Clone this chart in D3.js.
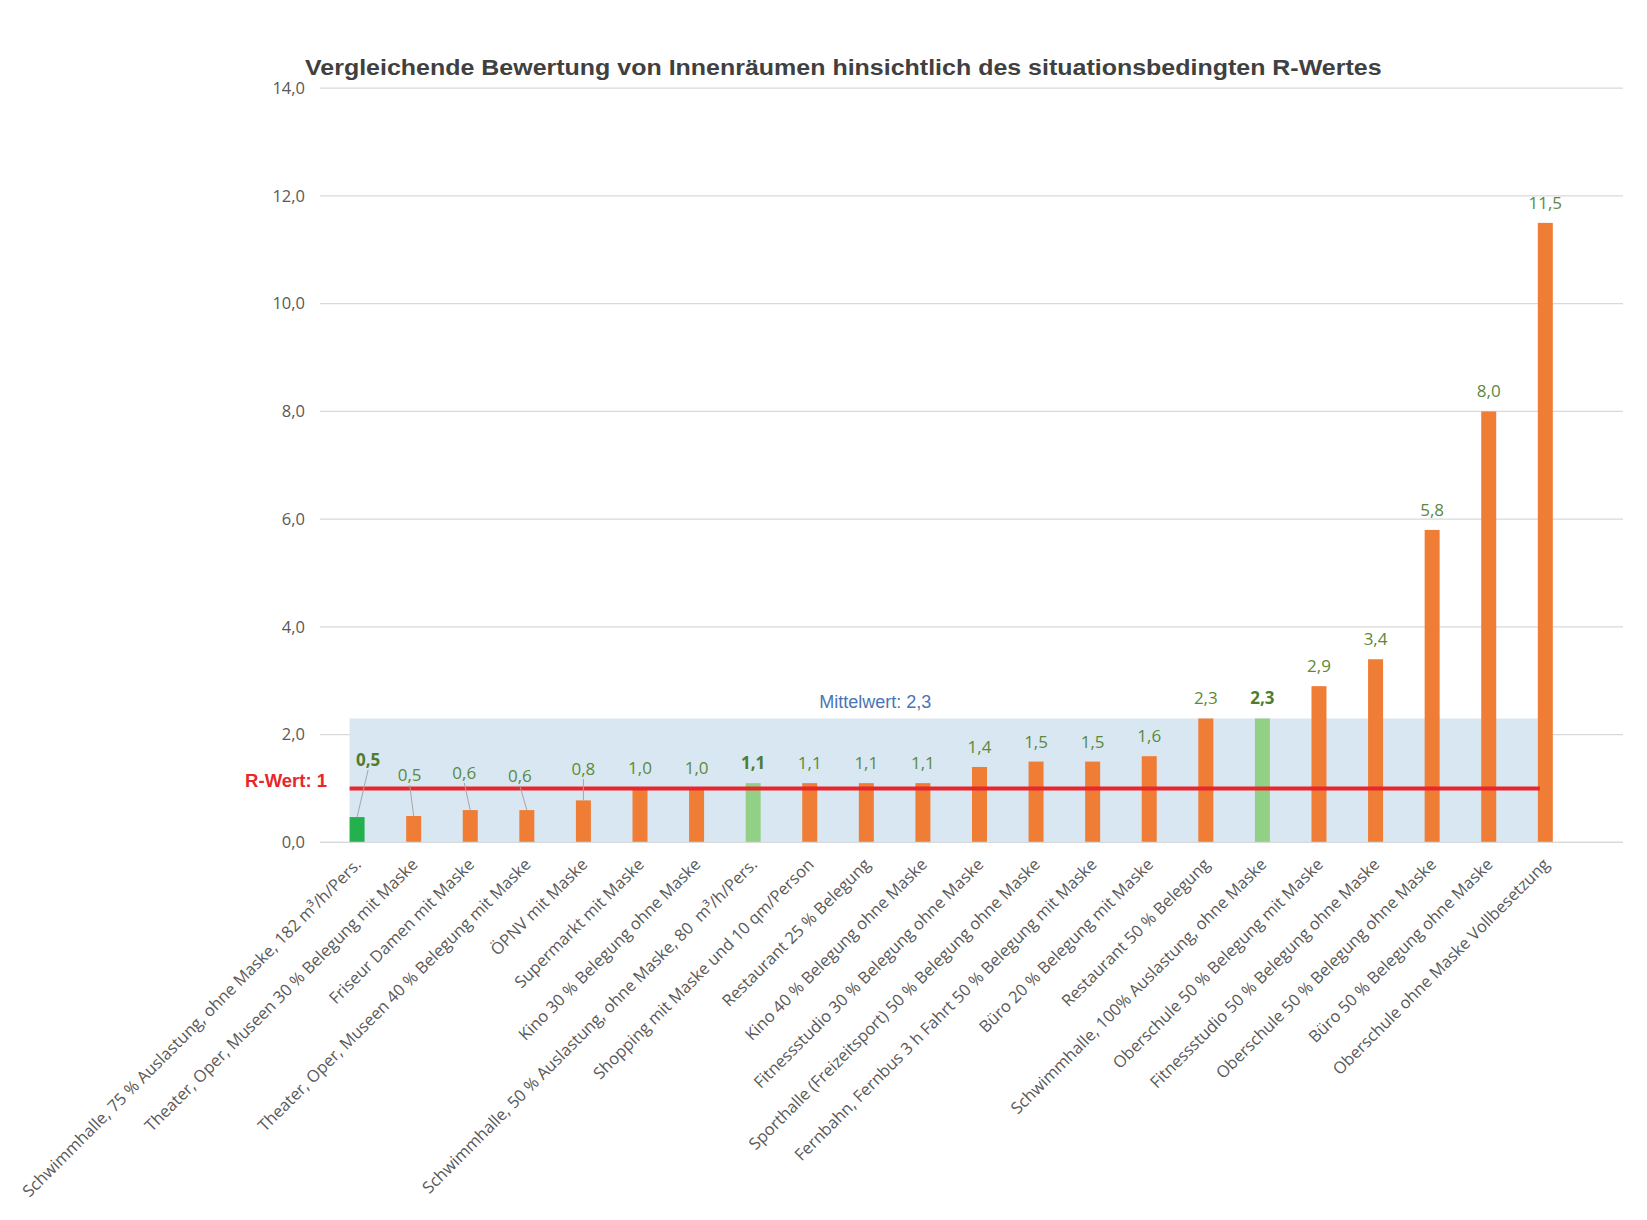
<!DOCTYPE html>
<html>
<head>
<meta charset="utf-8">
<script src="https://cdn.jsdelivr.net/npm/d3@7"></script>
<style>
  html, body { margin: 0; padding: 0; background: #ffffff; }
  svg { display: block; }
  text { white-space: pre; }
</style>
</head>
<body>
<svg id="chart" width="1647" height="1220"></svg>
<script>
// ---------- data ----------
const chartTitle = "Vergleichende Bewertung von Innenräumen hinsichtlich des situationsbedingten R-Wertes";
const categories = [
  "Schwimmhalle, 75 % Auslastung, ohne Maske, 182 m³/h/Pers.",
  "Theater, Oper, Museen 30 % Belegung mit Maske",
  "Friseur Damen mit Maske",
  "Theater, Oper, Museen 40 % Belegung mit Maske",
  "ÖPNV mit Maske",
  "Supermarkt mit Maske",
  "Kino 30 % Belegung ohne Maske",
  "Schwimmhalle, 50 % Auslastung, ohne Maske, 80  m³/h/Pers.",
  "Shopping mit Maske und 10 qm/Person",
  "Restaurant 25 % Belegung",
  "Kino 40 % Belegung ohne Maske",
  "Fitnessstudio 30 % Belegung ohne Maske",
  "Sporthalle (Freizeitsport) 50 % Belegung ohne Maske",
  "Fernbahn, Fernbus 3 h Fahrt 50 % Belegung mit Maske",
  "Büro 20 % Belegung mit Maske",
  "Restaurant 50 % Belegung",
  "Schwimmhalle, 100% Auslastung, ohne Maske",
  "Oberschule 50 % Belegung mit Maske",
  "Fitnessstudio 50 % Belegung ohne Maske",
  "Oberschule 50 % Belegung ohne Maske",
  "Büro 50 % Belegung ohne Maske",
  "Oberschule ohne Maske Vollbesetzung"
];
const values = [0.47, 0.49, 0.6, 0.6, 0.78, 1.0, 1.0, 1.1, 1.1, 1.1, 1.1, 1.4, 1.5, 1.5, 1.6, 2.3, 2.3, 2.9, 3.4, 5.8, 8.0, 11.5];
const barGroup = ["dunkelgruen", "orange", "orange", "orange", "orange", "orange", "orange", "hellgruen",
  "orange", "orange", "orange", "orange", "orange", "orange", "orange", "orange", "hellgruen",
  "orange", "orange", "orange", "orange", "orange"];
const yTicks = [0, 2, 4, 6, 8, 10, 12, 14];
const rWert = 1;
const mittelwert = 2.3;
const rWertLabel = "R-Wert: 1";
const mittelwertLabel = "Mittelwert: 2,3";

// label placement for the small bars that use leader lines (styling, not data)
const leaderLabelY = [1.53, 1.25, 1.29, 1.24, 1.36];
const leaderLabelDx = [11, -4, -6, -7, 0];

// ---------- styles ----------
const colors = { dunkelgruen: "#22b14c", hellgruen: "#92d085", orange: "#ef7d35" };
const locale = d3.formatLocale({ decimal: ",", thousands: ".", grouping: [3], currency: ["", " €"] });
const fmt = locale.format(".1f");

const svg = d3.select("#chart");
svg.append("rect").attr("width", 1647).attr("height", 1220).attr("fill", "#ffffff");

const y = d3.scaleLinear().domain([0, 14]).range([842.4, 88.2]);
const x = d3.scaleBand().domain(categories).range([328.8, 1573.6]).paddingInner(0.735).paddingOuter(0.3675);
const bw = x.bandwidth();
const cx = c => x(c) + bw / 2;

const gridLeft = 320, gridRight = 1623;

// gridlines
svg.append("g").selectAll("line").data(yTicks).join("line")
  .attr("x1", gridLeft).attr("x2", gridRight)
  .attr("y1", d => y(d)).attr("y2", d => y(d))
  .attr("stroke", "#d9d9d9").attr("stroke-width", 1.2);

// y axis labels
const yAxis = d3.axisLeft(y).tickValues(yTicks).tickFormat(d => fmt(d)).tickSize(0).tickPadding(0);
const yg = svg.append("g").attr("transform", "translate(305,0)").call(yAxis);
yg.select(".domain").remove();
yg.selectAll("text").attr("font-family", "Open Sans").attr("font-size", 16.5).attr("fill", "#595959");

// Mittelwert band
const firstLeft = x(categories[0]);
const lastLeft = x(categories[categories.length - 1]);
svg.append("rect")
  .attr("x", firstLeft).attr("width", lastLeft - firstLeft)
  .attr("y", y(mittelwert)).attr("height", y(0) - y(mittelwert))
  .attr("fill", "#d9e7f2");

// bars
svg.append("g").selectAll("rect").data(categories).join("rect")
  .attr("x", d => x(d)).attr("width", bw)
  .attr("y", (d, i) => y(values[i]))
  .attr("height", (d, i) => y(0) - y(values[i]))
  .attr("fill", (d, i) => colors[barGroup[i]]);

// baseline
svg.append("line").attr("x1", gridLeft).attr("x2", gridRight)
  .attr("y1", y(0)).attr("y2", y(0)).attr("stroke", "#d9d9d9").attr("stroke-width", 1.2);

// R-Wert line
svg.append("line")
  .attr("x1", firstLeft).attr("x2", lastLeft + 2)
  .attr("y1", y(rWert)).attr("y2", y(rWert))
  .attr("stroke", "#e8262b").attr("stroke-width", 4);

svg.append("text").text(rWertLabel)
  .attr("x", 327).attr("y", y(rWert) - 8).attr("dy", "0.35em")
  .attr("text-anchor", "end")
  .attr("font-family", "Liberation Sans, Arial, sans-serif").attr("font-weight", "bold")
  .attr("font-size", 18.5).attr("fill", "#e8262b");

svg.append("text").text(mittelwertLabel)
  .attr("x", cx(categories[9]) + 9).attr("y", y(mittelwert) - 17).attr("dy", "0.35em")
  .attr("text-anchor", "middle")
  .attr("font-family", "Liberation Sans, Arial, sans-serif")
  .attr("font-size", 18).attr("fill", "#4a74b6");

// data labels
const labelPos = categories.map((c, i) => {
  if (i < leaderLabelY.length) {
    return { x: cx(c) + leaderLabelDx[i], y: y(leaderLabelY[i]), leader: true };
  }
  return { x: cx(c), y: y(values[i]) - 20, leader: false };
});

svg.append("g").selectAll("line").data(categories.filter((c, i) => labelPos[i].leader)).join("line")
  .attr("x1", (d, i) => labelPos[i].x).attr("y1", (d, i) => labelPos[i].y + 10)
  .attr("x2", d => cx(d)).attr("y2", (d, i) => y(values[i]))
  .attr("stroke", "#a6a6a6").attr("stroke-width", 1);

svg.append("g").selectAll("text").data(categories).join("text")
  .text((d, i) => fmt(values[i]))
  .attr("x", (d, i) => labelPos[i].x).attr("y", (d, i) => labelPos[i].y)
  .attr("dy", "0.35em").attr("text-anchor", "middle")
  .attr("font-family", "Open Sans").attr("font-size", 17)
  .attr("font-weight", (d, i) => barGroup[i] === "orange" ? "normal" : "bold")
  .attr("fill", (d, i) => barGroup[i] === "orange" ? "#5b8a3c" : "#4e7d2e");

// x labels
svg.append("g").selectAll("text").data(categories).join("text")
  .text(d => d)
  .attr("transform", d => `translate(${cx(d) + 1},${y(0) + 19}) rotate(-45)`)
  .attr("text-anchor", "end").attr("dy", "0.35em")
  .attr("font-family", "Open Sans").attr("font-size", 16.5).attr("fill", "#595959");

// title (glyphs stretched horizontally to the reference width)
const titleWidth = 1077;
const title = svg.append("text").text(chartTitle)
  .attr("x", 0).attr("y", 0)
  .attr("font-family", "Liberation Sans, Arial, sans-serif").attr("font-weight", "bold")
  .attr("font-size", 22).attr("fill", "#404040");
const natural = title.node().getComputedTextLength();
title.attr("transform", `translate(305,75) scale(${titleWidth / natural},1)`);
</script>
</body>
</html>
